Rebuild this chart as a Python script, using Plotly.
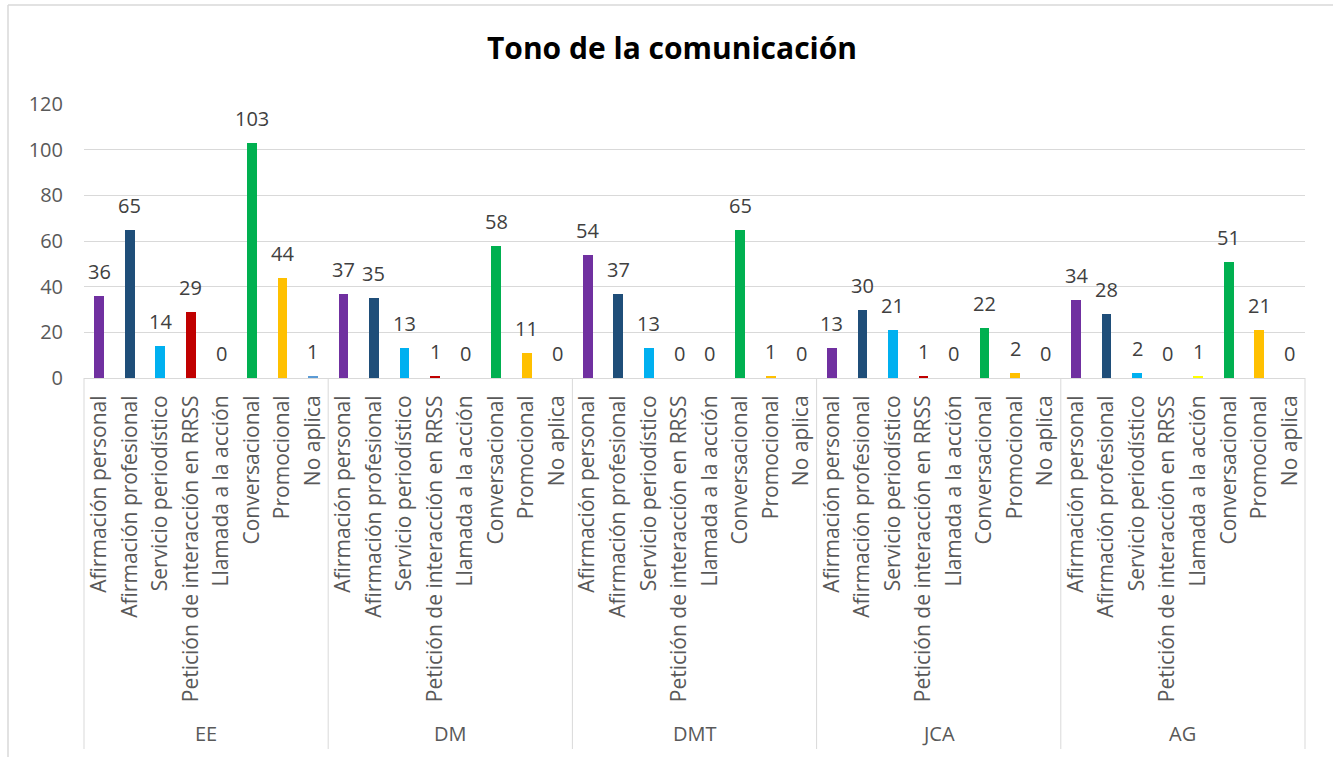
import plotly.graph_objects as go

groups = ["EE", "DM", "DMT", "JCA", "AG"]
categories = [
    "Afirmación personal",
    "Afirmación profesional",
    "Servicio periodístico",
    "Petición de interacción en RRSS",
    "Llamada a la acción",
    "Conversacional",
    "Promocional",
    "No aplica",
]
colors = ["#7030A0", "#1F4E79", "#00B0F0", "#C00000", "#FFFF00", "#00B050", "#FFC000", "#5B9BD5"]

values_EE = [36, 65, 14, 29, 0, 103, 44, 1]
values_DM = [37, 35, 13, 1, 0, 58, 11, 0]
values_DMT = [54, 37, 13, 0, 0, 65, 1, 0]
values_JCA = [13, 30, 21, 1, 0, 22, 2, 0]
values_AG = [34, 28, 2, 0, 1, 51, 21, 0]
all_values = [values_EE, values_DM, values_DMT, values_JCA, values_AG]

W, H = 1333, 757
ml, mr, mt, mb = 84, 28, 104, 379
ph = H - mt - mb
pw = W - ml - mr

def py(pix):
    return (H - mb - pix) / ph

def px(pix):
    return (pix - ml) / pw

xs, ys, cs, labels = [], [], [], []
n = len(categories)
for g, vals in enumerate(all_values):
    for c, v in enumerate(vals):
        xs.append(g * n + c)
        ys.append(v)
        cs.append(colors[c])
        labels.append(categories[c])

fig = go.Figure()
fig.add_trace(go.Bar(x=xs, y=ys, marker=dict(color=cs, line=dict(width=0)), width=0.32,
                     hoverinfo="y"))

font_fam = "'Open Sans', sans-serif"
annotations = []
for x, v in zip(xs, ys):
    annotations.append(dict(x=x, y=v, xref="x", yref="y", text=str(v), showarrow=False,
                            yanchor="bottom", yshift=9,
                            font=dict(family=font_fam, size=20, color="#404040")))
for g, name in enumerate(groups):
    annotations.append(dict(x=g * n + (n - 1) / 2, y=py(733), xref="x", yref="paper",
                            text=name, showarrow=False, yanchor="middle",
                            font=dict(family=font_fam, size=20, color="#595959")))

shapes = []
for g in range(len(groups) + 1):
    shapes.append(dict(type="line", xref="paper", yref="paper", x0=g / len(groups), x1=g / len(groups),
                       y0=0, y1=py(749), line=dict(color="#D9D9D9", width=1)))
# chart border (left and top)
shapes.append(dict(type="line", xref="paper", yref="paper", x0=px(8), x1=px(8),
                   y0=py(5), y1=py(760), line=dict(color="#D9D9D9", width=1.5)))
shapes.append(dict(type="line", xref="paper", yref="paper", x0=px(8), x1=px(1340),
                   y0=py(5), y1=py(5), line=dict(color="#D9D9D9", width=1.5)))

fig.update_layout(
    width=W, height=H,
    margin=dict(l=ml, r=mr, t=mt, b=mb, pad=0),
    paper_bgcolor="white", plot_bgcolor="white",
    showlegend=False,
    bargap=0,
    title=dict(text="<b>Tono de la comunicación</b>", x=672 / W, xref="container", xanchor="center",
               y=1 - 48 / H, yref="container", yanchor="middle",
               font=dict(family=font_fam, size=30, color="#000000")),
    xaxis=dict(range=[-0.5, len(xs) - 0.5], tickmode="array", tickvals=xs, ticktext=labels,
               tickangle=-90, showgrid=False, zeroline=False, showline=True, linecolor="#D9D9D9",
               linewidth=1, ticks="", ticklabelstandoff=8,
               tickfont=dict(family=font_fam, size=21, color="#595959")),
    yaxis=dict(range=[0, 120], tickmode="array", tickvals=[0, 20, 40, 60, 80, 100, 120],
               showgrid=True, gridcolor="#D9D9D9", gridwidth=1, zeroline=False, showline=False,
               ticks="", ticklabelstandoff=20,
               tickfont=dict(family=font_fam, size=20, color="#595959")),
    annotations=annotations,
    shapes=shapes,
)

fig.write_html("out.html", post_script="document.body.style.margin='0';",
               config={"displayModeBar": False})
